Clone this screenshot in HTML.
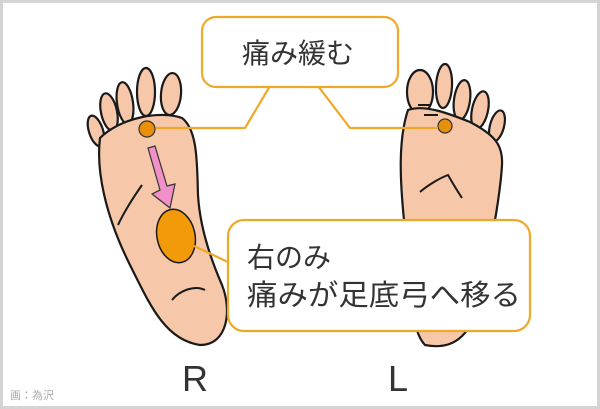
<!DOCTYPE html>
<html><head><meta charset="utf-8"><style>
html,body{margin:0;padding:0;background:#fff}
svg{display:block}
text{font-family:"Liberation Sans","Noto Sans CJK JP",sans-serif}
</style></head><body>
<svg width="600" height="409" viewBox="0 0 600 409" xmlns="http://www.w3.org/2000/svg">
<rect x="1.5" y="1.5" width="597" height="406" fill="#fff" stroke="#d4d4d4" stroke-width="3"/>
<g fill="#f6c7a8" stroke="#1a1a1a" stroke-width="2.2">
<!-- right foot toes -->
<ellipse cx="96" cy="131" rx="7" ry="16" transform="rotate(-18 96 131)"/>
<ellipse cx="109" cy="112" rx="8" ry="19" transform="rotate(-12 109 112)"/>
<ellipse cx="125" cy="103" rx="8" ry="21" transform="rotate(-8 125 103)"/>
<ellipse cx="146" cy="92" rx="9" ry="24"/>
<ellipse cx="171" cy="94" rx="10" ry="21" transform="rotate(5 171 94)"/>
<path d="M100 138 C96 170 105 215 130 265 C150 305 165 340 200 345 C228 345 232 310 222 285 C212 262 200 230 198 195 C197 165 198 130 182 118 C160 110 120 118 100 138 Z"/>
<!-- left foot toes -->
<ellipse cx="420" cy="92" rx="13" ry="22"/>
<ellipse cx="444" cy="86" rx="8" ry="22" transform="rotate(3 444 86)"/>
<ellipse cx="462" cy="100" rx="8" ry="20" transform="rotate(8 462 100)"/>
<ellipse cx="480" cy="110" rx="8" ry="19" transform="rotate(12 480 110)"/>
<ellipse cx="497" cy="126" rx="7" ry="16" transform="rotate(15 497 126)"/>
<path d="M408 110 C398 140 400 180 404 220 C408 280 410 330 425 345 C450 350 470 340 480 300 C488 260 500 200 502 165 C503 145 495 135 470 122 C450 114 425 104 408 110 Z"/>
</g>
<g fill="none" stroke="#1a1a1a" stroke-width="2">
<path d="M118 225 C125 210 135 195 142 185"/>
<path d="M172 300 C180 290 195 285 205 290"/>
<path d="M420 192 C428 185 440 178 448 175 C452 182 458 192 462 198"/>
<path d="M418 105 L430 105 M424 115 L438 115"/>
</g>
<!-- pink arrow -->
<path d="M148 148 L155 146 L167 186 L175 184 L170 208 L152 194 L160 190 Z" fill="#f08fc8" stroke="#333" stroke-width="1.2"/>
<ellipse cx="176" cy="236" rx="19" ry="27" transform="rotate(-12 176 236)" fill="#f39a0a" stroke="#1a1a1a" stroke-width="1.5"/>
<circle cx="147" cy="129" r="8" fill="#e8900c" stroke="#333" stroke-width="1.2"/>
<circle cx="445" cy="126" r="7" fill="#e8900c" stroke="#333" stroke-width="1.2"/>
<g fill="none" stroke="#f0a828" stroke-width="2.2">
<polyline points="270,86 245,128 156,128"/>
<polyline points="318,86 350,128 438,128"/>
<line x1="194" y1="246" x2="230" y2="263"/>
</g>
<rect x="202" y="17" width="196" height="70" rx="14" fill="#fff" stroke="#f0a828" stroke-width="2.2"/>
<rect x="228" y="220" width="302" height="111" rx="16" fill="#fff" stroke="#f0a828" stroke-width="2.2"/>
<text x="298" y="63" font-size="28" fill="#333" text-anchor="middle">痛み緩む</text>
<text x="247" y="267" font-size="28" fill="#333">右のみ</text>
<text x="247" y="305" font-size="29" fill="#333" textLength="274" lengthAdjust="spacingAndGlyphs">痛みが足底弓へ移る</text>
<text x="195" y="391" font-size="36" fill="#333" text-anchor="middle">R</text>
<text x="398" y="391" font-size="36" fill="#333" text-anchor="middle">L</text>
<text x="10" y="399" font-size="11" fill="#aaa">画：為沢</text>
</svg>
</body></html>
